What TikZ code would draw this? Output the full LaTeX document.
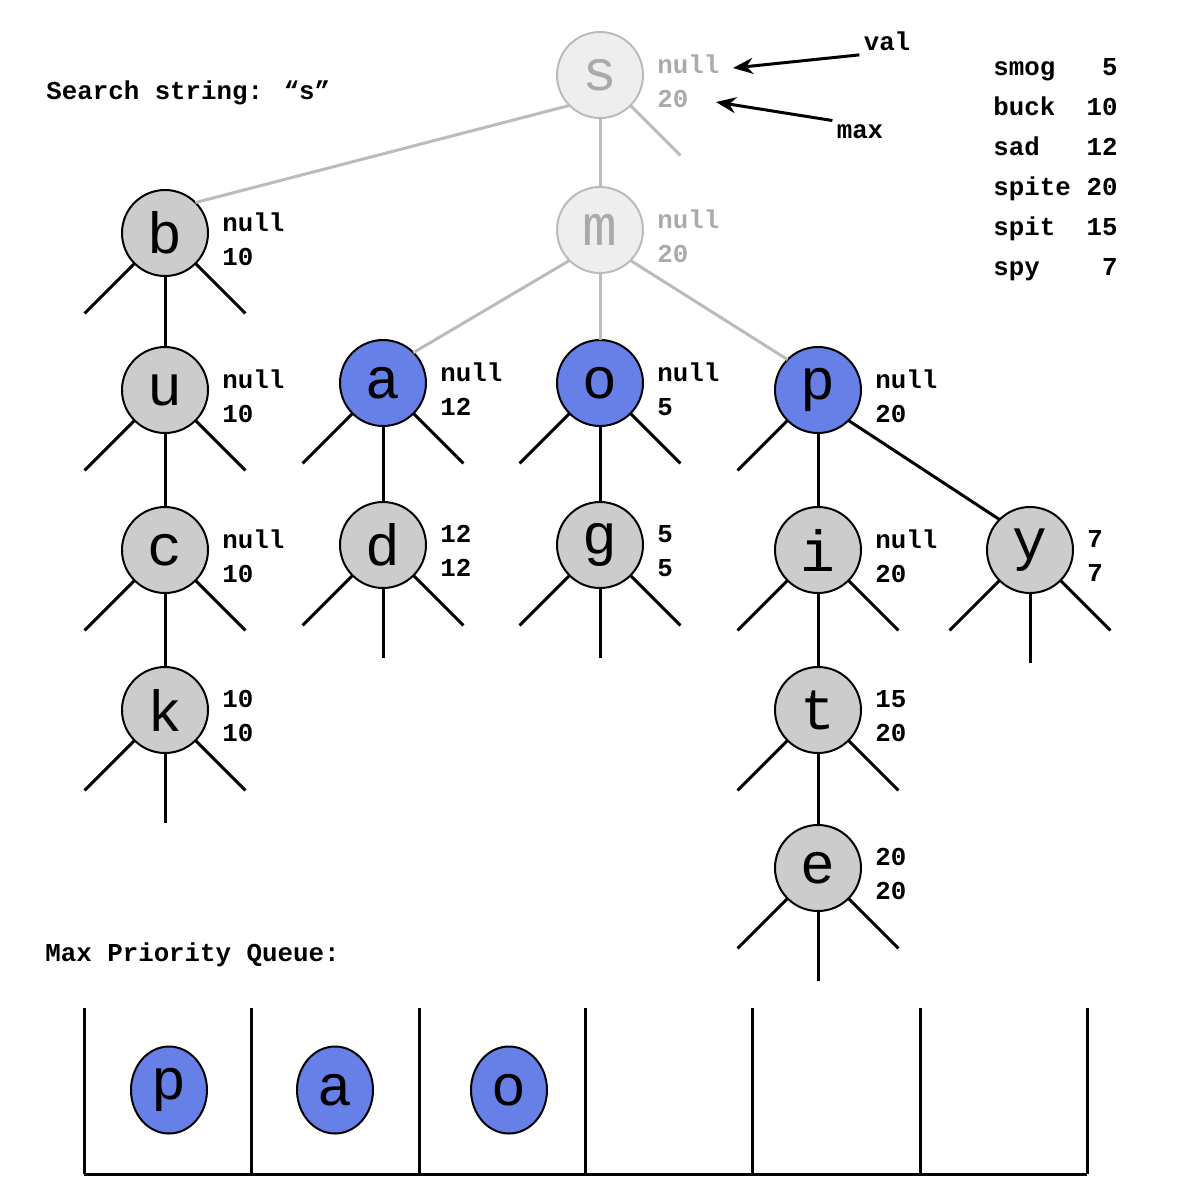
\documentclass[tikz,border=0pt]{standalone}
\usepackage{fontspec}
\usetikzlibrary{arrows.meta, positioning, shapes.geometric}
\newfontfamily\codefont{Liberation Mono}
\definecolor{hitblue}{HTML}{6680E8}
\definecolor{nodegray}{HTML}{CCCCCC}
\definecolor{fadefill}{HTML}{EEEEEE}
\definecolor{fadeline}{HTML}{BBBBBB}
\definecolor{fadetext}{HTML}{AAAAAA}
\tikzset{
    letter/.style = {circle, draw, line width = 1pt, minimum size = 43pt, inner sep = 0pt, outer sep = 0pt, font = \fontsize{29}{29}\selectfont\codefont},
    trie/.style = {letter, fill = nodegray},
    hit/.style = {letter, fill = hitblue},
    faded/.style = {letter, draw = fadeline, fill = fadefill, text = fadetext},
    qitem/.style = {hit, ellipse, minimum width = 38pt, minimum height = 43.5pt},
    info/.style = {align = left, inner sep = 0pt, font = \fontsize{12.9}{17}\selectfont\codefont\bfseries},
    fadedinfo/.style = {info, text = fadetext},
    link/.style = {line width = 1.5pt},
    fadedlink/.style = {line width = 1.5pt, fadeline},
    pointer/.style = {-{Stealth[length = 10pt, width = 8pt]}, line width = 1.5pt},
    wall/.style = {line width = 1.5pt}
}
\begin{document}
\begin{tikzpicture}[x = 0.5pt, y = -0.5pt]
    \useasboundingbox (0, 0) rectangle (1200, 1200);
    \node [faded] (s) at (600, 75) {s};
    \node [faded] (m) at (600, 230) {m};
    \node [trie] (b) at (165, 233) {b};
    \node [trie] (u) at (165, 390) {u};
    \node [trie] (c) at (165, 550) {c};
    \node [trie] (k) at (165, 710) {k};
    \node [hit] (a) at (383, 383) {a};
    \node [trie] (d) at (383, 545) {d};
    \node [hit] (o) at (600, 383) {o};
    \node [trie] (g) at (600, 545) {g};
    \node [hit] (p) at (818, 390) {p};
    \node [trie] (i) at (818, 550) {i};
    \node [trie] (t) at (818, 710) {t};
    \node [trie] (e) at (818, 868) {e};
    \node [trie] (y) at (1030, 550) {y};

    \node [fadedinfo, right = 7pt of s, yshift = -3pt] (sv) {null\\20};
    \node [fadedinfo, right = 7pt of m, yshift = -3pt] (mv) {null\\20};
    \node [info, right = 7pt of b, yshift = -3pt] (bv) {null\\10};
    \node [info, right = 7pt of u, yshift = -3pt] (uv) {null\\10};
    \node [info, right = 7pt of c, yshift = -3pt] (cv) {null\\10};
    \node [info, right = 7pt of k, yshift = -3pt] (kv) {10\\10};
    \node [info, right = 7pt of a, yshift = -3pt] (av) {null\\12};
    \node [info, right = 7pt of d, yshift = -3pt] (dv) {12\\12};
    \node [info, right = 7pt of o, yshift = -3pt] (ov) {null\\5};
    \node [info, right = 7pt of g, yshift = -3pt] (gv) {5\\5};
    \node [info, right = 7pt of p, yshift = -3pt] (pv) {null\\20};
    \node [info, right = 7pt of i, yshift = -3pt] (iv) {null\\20};
    \node [info, right = 7pt of t, yshift = -3pt] (tv) {15\\20};
    \node [info, right = 7pt of e, yshift = -3pt] (ev) {20\\20};
    \node [info, right = 7pt of y, yshift = -3pt] (yv) {7\\7};

    \draw [fadedlink] (s.south west) -- (b.north east);
    \draw [fadedlink] (s) -- (m);
    \draw [fadedlink] (s.south east) -- ++(50, 50);
    \draw [fadedlink] (m.south west) -- (a.north east);
    \draw [fadedlink] (m) -- (o);
    \draw [fadedlink] (m.south east) -- (p.north west);
    \draw [link] (b) -- (u);
    \draw [link] (u) -- (c);
    \draw [link] (c) -- (k);
    \draw [link] (a) -- (d);
    \draw [link] (o) -- (g);
    \draw [link] (p) -- (i);
    \draw [link] (p.south east) -- (y.north west);
    \draw [link] (i) -- (t);
    \draw [link] (t) -- (e);
    \draw [link] (p.south west) -- ++(-50, 50);
    \foreach \n in {b, u, c, k, a, d, o, g, i, t, e, y} {
        \draw [link] (\n.south west) -- ++(-50, 50);
        \draw [link] (\n.south east) -- ++(50, 50);
    }
    \foreach \n in {k, d, g, e, y}
        \draw [link] (\n.south) -- ++(0, 70);

    \node [info, inner sep = 2pt] (val) at (887, 41) {val};
    \node [info, inner sep = 2pt] (max) at (860, 132) {max};
    \coordinate (valtip) at (733, 68);
    \coordinate (maxtip) at (716, 102);
    \draw [pointer] (val.south west) -- (valtip);
    \draw [pointer] (max.north west) -- (maxtip);

    \node [info, anchor = west] (search) at (46, 93) {Search string: “s”};
    \foreach \word/\num [count = \r] in {smog/5, buck/10, sad/12, spite/20, spit/15, spy/7} {
        \node [info, anchor = base west] (w\r) at (993, 35 + 40 * \r) {\word};
        \node [info, anchor = base east] (v\r) at (1118, 35 + 40 * \r) {\num};
    }

    \node [info, anchor = west] (queue) at (45, 955) {Max Priority Queue:};
    \foreach \x in {84, 251, 419, 585, 752, 920, 1087}
        \draw [wall] (\x, 1008) -- (\x, 1174);
    \draw [wall] (84, 1174) -- (1087, 1174);
    \node [qitem] (qp) at (169, 1090) {p};
    \node [qitem] (qa) at (335, 1090) {a};
    \node [qitem] (qo) at (509, 1090) {o};
\end{tikzpicture}
\end{document}
